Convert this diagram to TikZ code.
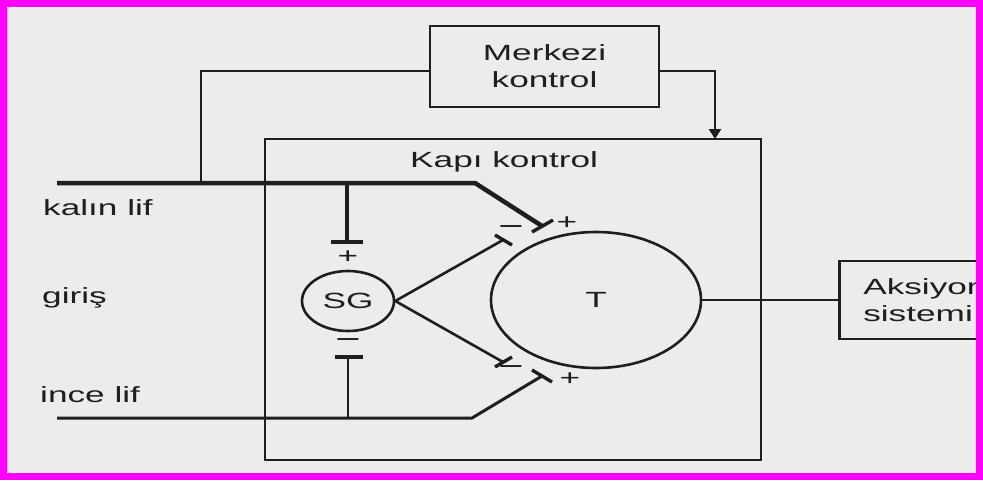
\documentclass[tikz,border=0pt]{standalone}
\usepackage{fontspec}
\setmainfont{Liberation Sans}[FakeStretch=1.6]
\usetikzlibrary{shapes.geometric,arrows.meta}
\definecolor{paper}{RGB}{236,236,236}
\definecolor{ink}{RGB}{30,30,30}
\definecolor{framecol}{RGB}{255,0,255}
\begin{document}
\begin{tikzpicture}[x=1pt,y=-1pt,line join=miter,
  lbl/.style={font=\fontsize{22}{27}\selectfont, text=ink, inner sep=0pt},
  box/.style={draw=ink, line width=2.6pt, rectangle, inner sep=0pt},
  wire/.style={draw=ink, line width=2.6pt},
  heavy/.style={draw=ink, line width=4.5pt},
  barline/.style={draw=ink, line width=3.4pt},
  plussign/.style={font=\fontsize{22}{22}\selectfont, text=ink, inner sep=0pt},
  minussign/.style={font=\fontsize{27}{27}\selectfont, text=ink, inner sep=0pt}]
\useasboundingbox (0,0) rectangle (983,480);
\fill[paper] (0,0) rectangle (983,480);
\begin{scope}
\clip (7,7) rectangle (976,473);
% boxes
\node[box, lbl, minimum width=229pt, minimum height=81pt, align=center] (mk) at (544.5,66.5) {Merkezi\\kontrol};
\node[box, minimum width=496pt, minimum height=321pt] (kapi) at (513,299.5) {};
\node[lbl, anchor=base west] (kapil) at (410,167) {Kapı kontrol};
\node[box, lbl, ellipse, minimum width=210pt, minimum height=136pt] (T) at (596,300) {T};
\node[box, lbl, ellipse, minimum width=92pt, minimum height=60pt] (SG) at (348,301) {SG};
\node[box, lbl, anchor=west, minimum height=78pt, align=left, text width=132pt, inner xsep=24pt] (aks) at (838,300) {Aksiyon\\sistemi};
% input labels
\node[lbl, anchor=base west] (kalin) at (43,215) {kalın lif};
\node[lbl, anchor=base west] (giris) at (42,303) {giriş};
\node[lbl, anchor=base west] (ince) at (40,402) {ince lif};
% coordinates
\coordinate (kl0) at (57,183);
\coordinate (kl1) at (475,183);
\coordinate (kl2) at (542,226);
\coordinate (kb1) at (532,232);
\coordinate (kb2) at (553,220);
\coordinate (kv0) at (347,183);
\coordinate (kv1) at (347,242);
\coordinate (kvb1) at (331,242);
\coordinate (kvb2) at (363,242);
\coordinate (su) at (503,240);
\coordinate (sub1) at (495,235);
\coordinate (sub2) at (512,245);
\coordinate (sl) at (503,362);
\coordinate (slb1) at (495,367);
\coordinate (slb2) at (512,357);
\coordinate (il0) at (57,418);
\coordinate (il1) at (472,418);
\coordinate (il2) at (542,376);
\coordinate (ib1) at (532,370);
\coordinate (ib2) at (552,382);
\coordinate (iv0) at (348,418);
\coordinate (iv1) at (348,357);
\coordinate (ivb1) at (335,357);
\coordinate (ivb2) at (363,357);
\coordinate (mj) at (201,183);
\coordinate (arr) at (715,139);
% kalin lif
\draw[heavy] (kl0) -- (kl1) -- (kl2);
\draw[barline] (kb1) -- (kb2);
\draw[heavy] (kv0) -- (kv1);
\draw[barline] (kvb1) -- (kvb2);
% SG outputs
\draw[wire] (SG.east) -- (su);
\draw[barline] (sub1) -- (sub2);
\draw[wire] (SG.east) -- (sl);
\draw[barline] (slb1) -- (slb2);
% ince lif
\draw[wire, line width=3pt] (il0) -- (il1) -- (il2);
\draw[barline] (ib1) -- (ib2);
\draw[wire] (iv0) -- (iv1);
\draw[barline] (ivb1) -- (ivb2);
% central control
\draw[wire] ([yshift=-4.5pt]mk.west) -| (mj);
\draw[wire, -{Triangle[length=10pt,width=12pt]}] ([yshift=-4.5pt]mk.east) -| (arr);
% output
\draw[wire] (T.east) -- (aks.west);
% signs
\node[plussign] (p1) at (567,223) {+};
\node[minussign] (m1) at (511,231) {−};
\node[plussign] (p2) at (348,257) {+};
\node[minussign] (m2) at (348,344) {−};
\node[minussign] (m3) at (511,371) {−};
\node[plussign] (p3) at (570,379) {+};
\end{scope}
\draw[framecol, line width=7pt] (3.5,3.5) rectangle (979.5,476.5);
\end{tikzpicture}
\end{document}
